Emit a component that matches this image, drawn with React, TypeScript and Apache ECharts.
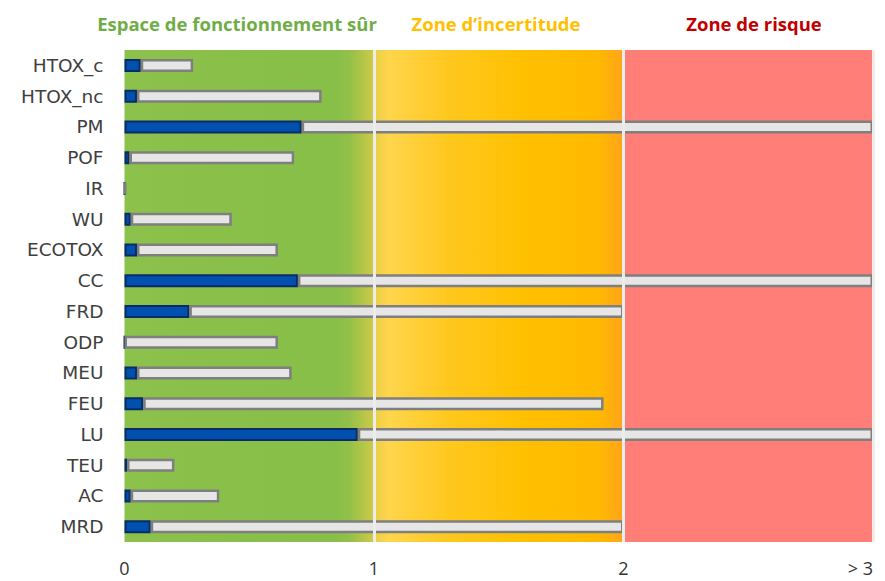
import React, { useEffect, useRef } from "react";
import * as echarts from "echarts";

const categories = ["HTOX_c", "HTOX_nc", "PM", "POF", "IR", "WU", "ECOTOX", "CC", "FRD", "ODP", "MEU", "FEU", "LU", "TEU", "AC", "MRD"];
const blueValues = [0.065, 0.05, 0.71, 0.02, 0, 0.025, 0.05, 0.695, 0.26, 0, 0.05, 0.075, 0.935, 0.01, 0.025, 0.105];
const totalValues = [0.275, 0.79, 3.0, 0.68, 0.006, 0.43, 0.615, 3.0, 2.0, 0.615, 0.67, 1.92, 3.0, 0.2, 0.38, 2.0];
const xTicks = [0, 1, 2, 3];
const zoneTitles = ["Espace de fonctionnement sûr", "Zone d\u2019incertitude", "Zone de risque"];

export default function App() {
  const ref = useRef<HTMLDivElement>(null);
  useEffect(() => {
    if (!ref.current) return;
    const chart = echarts.init(ref.current, null, { renderer: "svg" });
    const greyValues = totalValues.map((t, i) => +(t - blueValues[i]).toFixed(4));
    const lin = (stops: [number, string][]) => ({
      type: "linear", x: 0, y: 0, x2: 1, y2: 0,
      colorStops: stops.map(([offset, color]) => ({ offset, color })),
    });
    const titleFont = "bold 18.5px 'Open Sans'";
    chart.setOption({
      animation: false,
      grid: { left: 124.5, right: 12, top: 50, bottom: 39, containLabel: false },
      xAxis: {
        type: "value", min: 0, max: 3, interval: 1,
        axisLine: { show: false }, axisTick: { show: false },
        splitLine: { show: false },
        axisLabel: {
          margin: 17, fontSize: 18, color: "#333", fontFamily: "Open Sans",
          formatter: (v: number) => (v === 3 ? "> 3" : String(v)),
          alignMaxLabel: "right",
        },
      },
      yAxis: {
        type: "category", data: categories, inverse: true,
        axisLine: { show: false }, axisTick: { show: false },
        axisLabel: { margin: 21, fontSize: 18.5, color: "#404040", fontFamily: "DejaVu Sans" },
      },
      graphic: [
        { type: "text", x: 237, y: 23, style: { text: zoneTitles[0], fill: "#70ad47", font: titleFont, textAlign: "center", textVerticalAlign: "middle" } },
        { type: "text", x: 496, y: 23, style: { text: zoneTitles[1], fill: "#ffc000", font: titleFont, textAlign: "center", textVerticalAlign: "middle" } },
        { type: "text", x: 754, y: 23, style: { text: zoneTitles[2], fill: "#c00000", font: titleFont, textAlign: "center", textVerticalAlign: "middle" } },
      ],
      series: [
        {
          type: "line", data: [], z: 1, silent: true,
          markArea: {
            silent: true,
            data: [
              [{ xAxis: 0, itemStyle: { color: lin([[0, "#8cc14b"], [0.84, "#87bf49"], [0.9, "#92c048"], [1, "#cfca48"]]) } }, { xAxis: 1 }],
              [{ xAxis: 1, itemStyle: { color: lin([[0, "#e9cf48"], [0.06, "#ffd54c"], [0.3, "#ffc81e"], [0.6, "#ffc000"], [0.9, "#ffb900"], [1, "#ffa41c"]]) } }, { xAxis: 2 }],
              [{ xAxis: 2, itemStyle: { color: "#ff7f78" } }, { xAxis: 3 }],
            ],
          },
        },
        {
          type: "line", data: [], z: 2, silent: true,
          markLine: {
            silent: true, symbol: "none", label: { show: false },
            lineStyle: { color: "#ececec", width: 3, type: "solid" },
            data: xTicks.slice(1).map((v) => ({ xAxis: v })),
          },
        },
        {
          type: "bar", stack: "a", z: 3, data: blueValues, barWidth: 13,
          itemStyle: { color: "#0050b0", borderColor: "#0b2a66", borderWidth: 2 },
        },
        {
          type: "bar", stack: "a", z: 3, data: greyValues, barWidth: 13,
          itemStyle: { color: "#e6e6e6", borderColor: "#7f7f7f", borderWidth: 2.5 },
        },
      ],
    });
    return () => chart.dispose();
  }, []);
  return <div ref={ref} style={{ width: 885, height: 581, position: "absolute", left: 0, top: 0 }} />;
}
